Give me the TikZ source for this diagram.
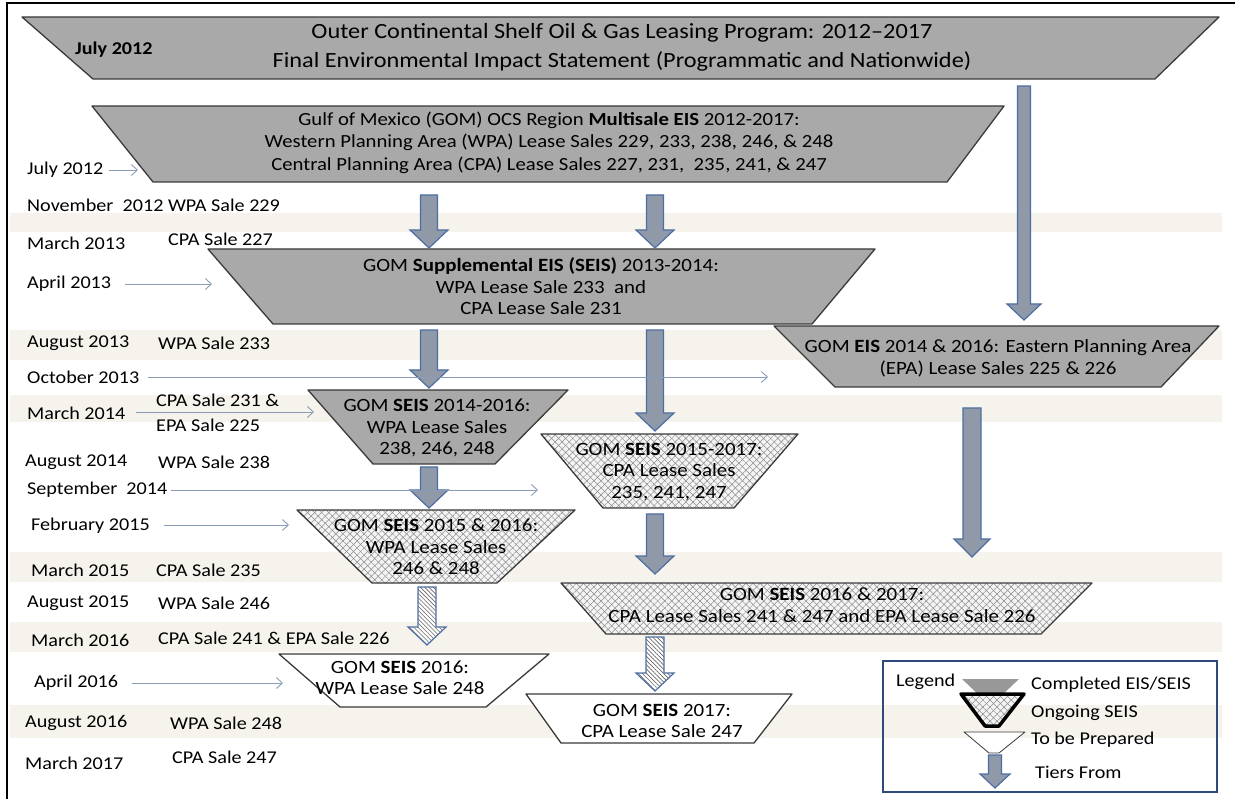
\documentclass[tikz,border=0pt]{standalone}
\usepackage{fontspec}
\setmainfont{Carlito}[FakeStretch=1.12]
\usetikzlibrary{arrows.meta,calc,patterns.meta}

\definecolor{shgray}{HTML}{A9A9A9}
\definecolor{shedge}{HTML}{3A3A3A}
\definecolor{arrfill}{HTML}{8F99A8}
\definecolor{arredge}{HTML}{4E6EA3}
\definecolor{datec}{HTML}{8A9CB8}
\definecolor{legedge}{HTML}{2E4A7A}
\definecolor{hatchc}{HTML}{8C8C8C}
\definecolor{xfill}{HTML}{F4F4F4}
\definecolor{band}{HTML}{F6F3EC}

\tikzset{
  done/.style={fill=shgray, draw=shedge, line width=1.3pt, line join=round},
  ongoing/.style={draw=shedge, line width=1.3pt, line join=round,
    preaction={fill=xfill},
    preaction={pattern={Lines[angle=45,distance=5pt,line width=0.5pt]}, pattern color=hatchc},
    preaction={pattern={Lines[angle=-45,distance=5pt,line width=0.5pt]}, pattern color=hatchc}},
  toprep/.style={fill=white, draw=shedge, line width=1.3pt, line join=round},
  blockto/.style n args={3}{to path={let \p1=(\tikztostart), \p2=(\tikztotarget) in
     (\x1-#1,\y1) -- (\x1+#1,\y1) -- (\x1+#1,\y2+#3) -- (\x1+#2,\y2+#3) -- (\x2,\y2)
     -- (\x1-#2,\y2+#3) -- (\x1-#1,\y2+#3) -- cycle}},
  tier/.style={fill=arrfill, draw=arredge, line width=1.2pt, line join=miter},
  tierhatch/.style={draw=arredge, line width=1.2pt, line join=miter,
    preaction={fill=white},
    preaction={pattern={Lines[angle=-45,distance=3pt,line width=0.6pt]}, pattern color=black!60}},
  datearrow/.style={draw=datec, line width=0.9pt, -{Straight Barb[length=6pt,width=11pt]}},
  lab/.style={anchor=west, inner sep=0pt},
  stxt/.style={align=center, inner sep=0pt, font=\fontsize{18.7}{21.5}\selectfont},
}

\begin{document}
\begin{tikzpicture}[x=1pt,y=-1pt, font=\fontsize{18}{21.5}\selectfont]
\useasboundingbox (0,0) rectangle (1235,799);
\fill[white] (0,0) rectangle (1235,799);
% faint background bands
\foreach \a/\b in {213/232, 330/360, 395/422, 552/582, 622/652, 705/738}
  \fill[band] (10,\a) rectangle (1222,\b);
% frame
\draw[line width=1.5pt] (7,799) -- (7,3) -- (1235,3);

% ---- shapes ----
\draw[done] (22,17) -- (1219,17) -- (1155,79) -- (93,79) -- cycle;
\node[stxt, font=\fontsize{21.7}{29}\selectfont] (title) at (622,47.5)
  {Outer Continental Shelf Oil \& Gas Leasing Program: 2012--2017\\
   Final Environmental Impact Statement (Programmatic and Nationwide)};
\node[lab, font=\fontsize{18}{21}\selectfont\bfseries] (jul12a) at (75,50) {July 2012};

\draw[done] (92,106) -- (1004,106) -- (947,182) -- (153,182) -- cycle;
\node[stxt, font=\fontsize{18.5}{22.5}\selectfont] (multi) at (549,142.5)
  {Gulf of Mexico (GOM) OCS Region \textbf{Multisale EIS} 2012-2017:\\
   Western Planning Area (WPA) Lease Sales 229, 233, 238, 246, \& 248\\
   Central Planning Area (CPA) Lease Sales 227, 231,\ \ 235, 241, \& 247};

\draw[done] (208,249) -- (875,249) -- (812,324) -- (273,324) -- cycle;
\node[stxt] (supp) at (541,286.5)
  {GOM \textbf{Supplemental EIS (SEIS)} 2013-2014:\\
   WPA Lease Sale 233\ \ and\\
   CPA Lease Sale 231};

\draw[done] (774,326) -- (1219,326) -- (1161,387) -- (835,387) -- cycle;
\node[stxt] (epa) at (998,358.5)
  {GOM \textbf{EIS} 2014 \& 2016: Eastern Planning Area\\
   (EPA) Lease Sales 225 \& 226};

\draw[done] (308,390) -- (568,390) -- (495,464) -- (373,464) -- cycle;
\node[stxt] (s1416) at (437,428)
  {GOM \textbf{SEIS} 2014-2016:\\ WPA Lease Sales\\ 238, 246, 248};

\draw[ongoing] (541,434) -- (798,434) -- (734,508) -- (603,508) -- cycle;
\node[stxt] (s1517) at (669,472)
  {GOM \textbf{SEIS} 2015-2017:\\ CPA Lease Sales\\ 235, 241, 247};

\draw[ongoing] (297,510) -- (575,510) -- (497,583) -- (372,583) -- cycle;
\node[stxt] (s1516) at (436,547)
  {GOM \textbf{SEIS} 2015 \& 2016:\\ WPA Lease Sales\\ 246 \& 248};

\draw[ongoing] (561,583) -- (1092,583) -- (1041,634) -- (606,634) -- cycle;
\node[stxt] (s1617) at (822,605)
  {GOM \textbf{SEIS} 2016 \& 2017:\\ CPA Lease Sales 241 \& 247 and EPA Lease Sale 226};

\draw[toprep] (279,654) -- (549,654) -- (486,707) -- (340,707) -- cycle;
\node[stxt] (s16) at (400,678)
  {GOM \textbf{SEIS} 2016:\\ WPA Lease Sale 248};

\draw[toprep] (526,694) -- (792,694) -- (754,743) -- (561,743) -- cycle;
\node[stxt] (s17) at (662,721)
  {GOM \textbf{SEIS} 2017:\\ CPA Lease Sale 247};

% ---- tier arrows ----
\coordinate (a1s) at (429,195); \coordinate (a1e) at (429,248);
\coordinate (a2s) at (655,195); \coordinate (a2e) at (655,248);
\coordinate (a3s) at (1024,86); \coordinate (a3e) at (1024,320);
\coordinate (a4s) at (429,330); \coordinate (a4e) at (429,388);
\coordinate (a5s) at (655,330); \coordinate (a5e) at (655,431);
\coordinate (a6s) at (429,467); \coordinate (a6e) at (429,508);
\coordinate (a7s) at (655,514); \coordinate (a7e) at (655,574);
\coordinate (a8s) at (972,408); \coordinate (a8e) at (972,557);
\coordinate (a9s) at (427,587); \coordinate (a9e) at (427,645);
\coordinate (a10s) at (655,637); \coordinate (a10e) at (655,691);
\draw[tier] (a1s) to[blockto={8.5pt}{19pt}{18pt}] (a1e);
\draw[tier] (a2s) to[blockto={8.5pt}{19pt}{18pt}] (a2e);
\draw[tier] (a3s) to[blockto={6.5pt}{17pt}{16pt}] (a3e);
\draw[tier] (a4s) to[blockto={8.5pt}{19pt}{18pt}] (a4e);
\draw[tier] (a5s) to[blockto={8.5pt}{19pt}{18pt}] (a5e);
\draw[tier] (a6s) to[blockto={8.5pt}{19pt}{18pt}] (a6e);
\draw[tier] (a7s) to[blockto={8.5pt}{19pt}{18pt}] (a7e);
\draw[tier] (a8s) to[blockto={9pt}{18pt}{18pt}] (a8e);
\draw[tierhatch] (a9s) to[blockto={9pt}{19pt}{18pt}] (a9e);
\draw[tierhatch] (a10s) to[blockto={9pt}{19pt}{18pt}] (a10e);

% ---- date labels ----
\node[lab] (d1) at (27,170) {July 2012};
\node[lab] (d2) at (27,205) {November\ \ 2012 WPA Sale 229};
\node[lab] (d3) at (27,243) {March 2013};
\node[lab] (d3b) at (168,239) {CPA Sale 227};
\node[lab] (d4) at (27,284) {April 2013};
\node[lab] (d5) at (27,343) {August 2013};
\node[lab] (d5b) at (158,343) {WPA Sale 233};
\node[lab] (d6) at (27,377) {October 2013};
\node[lab] (d7) at (27,413) {March 2014};
\node[lab] (d7b) at (156,400) {CPA Sale 231 \&};
\node[lab] (d7c) at (156,425) {EPA Sale 225};
\node[lab] (d8) at (25,462) {August 2014};
\node[lab] (d8b) at (158,462) {WPA Sale 238};
\node[lab] (d9) at (27,490) {September\ \ 2014};
\node[lab] (d10) at (31,526) {February 2015};
\node[lab] (d11) at (31,570) {March 2015};
\node[lab] (d11b) at (156,570) {CPA Sale 235};
\node[lab] (d12) at (27,603) {August 2015};
\node[lab] (d12b) at (158,603) {WPA Sale 246};
\node[lab] (d13) at (31,640) {March 2016};
\node[lab] (d13b) at (158,638) {CPA Sale 241 \& EPA Sale 226};
\node[lab] (d14) at (34,683) {April 2016};
\node[lab] (d15) at (25,723) {August 2016};
\node[lab] (d15b) at (170,723) {WPA Sale 248};
\node[lab] (d16) at (25,763) {March 2017};
\node[lab] (d16b) at (172,757) {CPA Sale 247};

\coordinate (e1) at (138,170);
\coordinate (e4) at (212,284);
\coordinate (e6) at (768,377);
\coordinate (e7) at (314,412);
\coordinate (e9) at (538,490);
\coordinate (e10) at (289,525);
\coordinate (e14) at (283,683);
\draw[datearrow] ([xshift=5pt]d1.east) -- (e1);
\draw[datearrow] ([xshift=14pt]d4.east|-e4) -- (e4);
\draw[datearrow] ([xshift=8pt]d6.east|-e6) -- (e6);
\draw[datearrow] ([xshift=10pt]d7.east|-e7) -- (e7);
\draw[datearrow] ([xshift=3pt]d9.east|-e9) -- (e9);
\draw[datearrow] ([xshift=14pt]d10.east|-e10) -- (e10);
\draw[datearrow] ([xshift=14pt]d14.east|-e14) -- (e14);

% ---- legend ----
\node[draw=legedge, line width=2.6pt, minimum width=334pt, minimum height=131pt, inner sep=0pt] (legend) at (1050,726.5) {};
\node[lab] (lgt) at (896,682) {Legend};
\fill[shgray!90!black] (962,679) -- (1019,679) -- (1000,697) -- (981,697) -- cycle;
\node[lab] (lg1) at (1031,685) {Completed EIS/SEIS};
\draw[ongoing, line width=3.5pt, draw=black] (961,694) -- (1024,694) -- (999,726) -- (985,726) -- cycle;
\node[lab] (lg2) at (1031,713) {Ongoing SEIS};
\draw[toprep, line width=0.8pt] (964,732) -- (1025,732) -- (999,753) -- (989,753) -- cycle;
\node[lab] (lg3) at (1031,740) {To be Prepared};
\coordinate (lga) at (995,755); \coordinate (lgb) at (995,788);
\draw[tier] (lga) to[blockto={6.5pt}{15pt}{14pt}] (lgb);
\node[lab] (lg4) at (1035,772) {Tiers From};
\end{tikzpicture}
\end{document}
